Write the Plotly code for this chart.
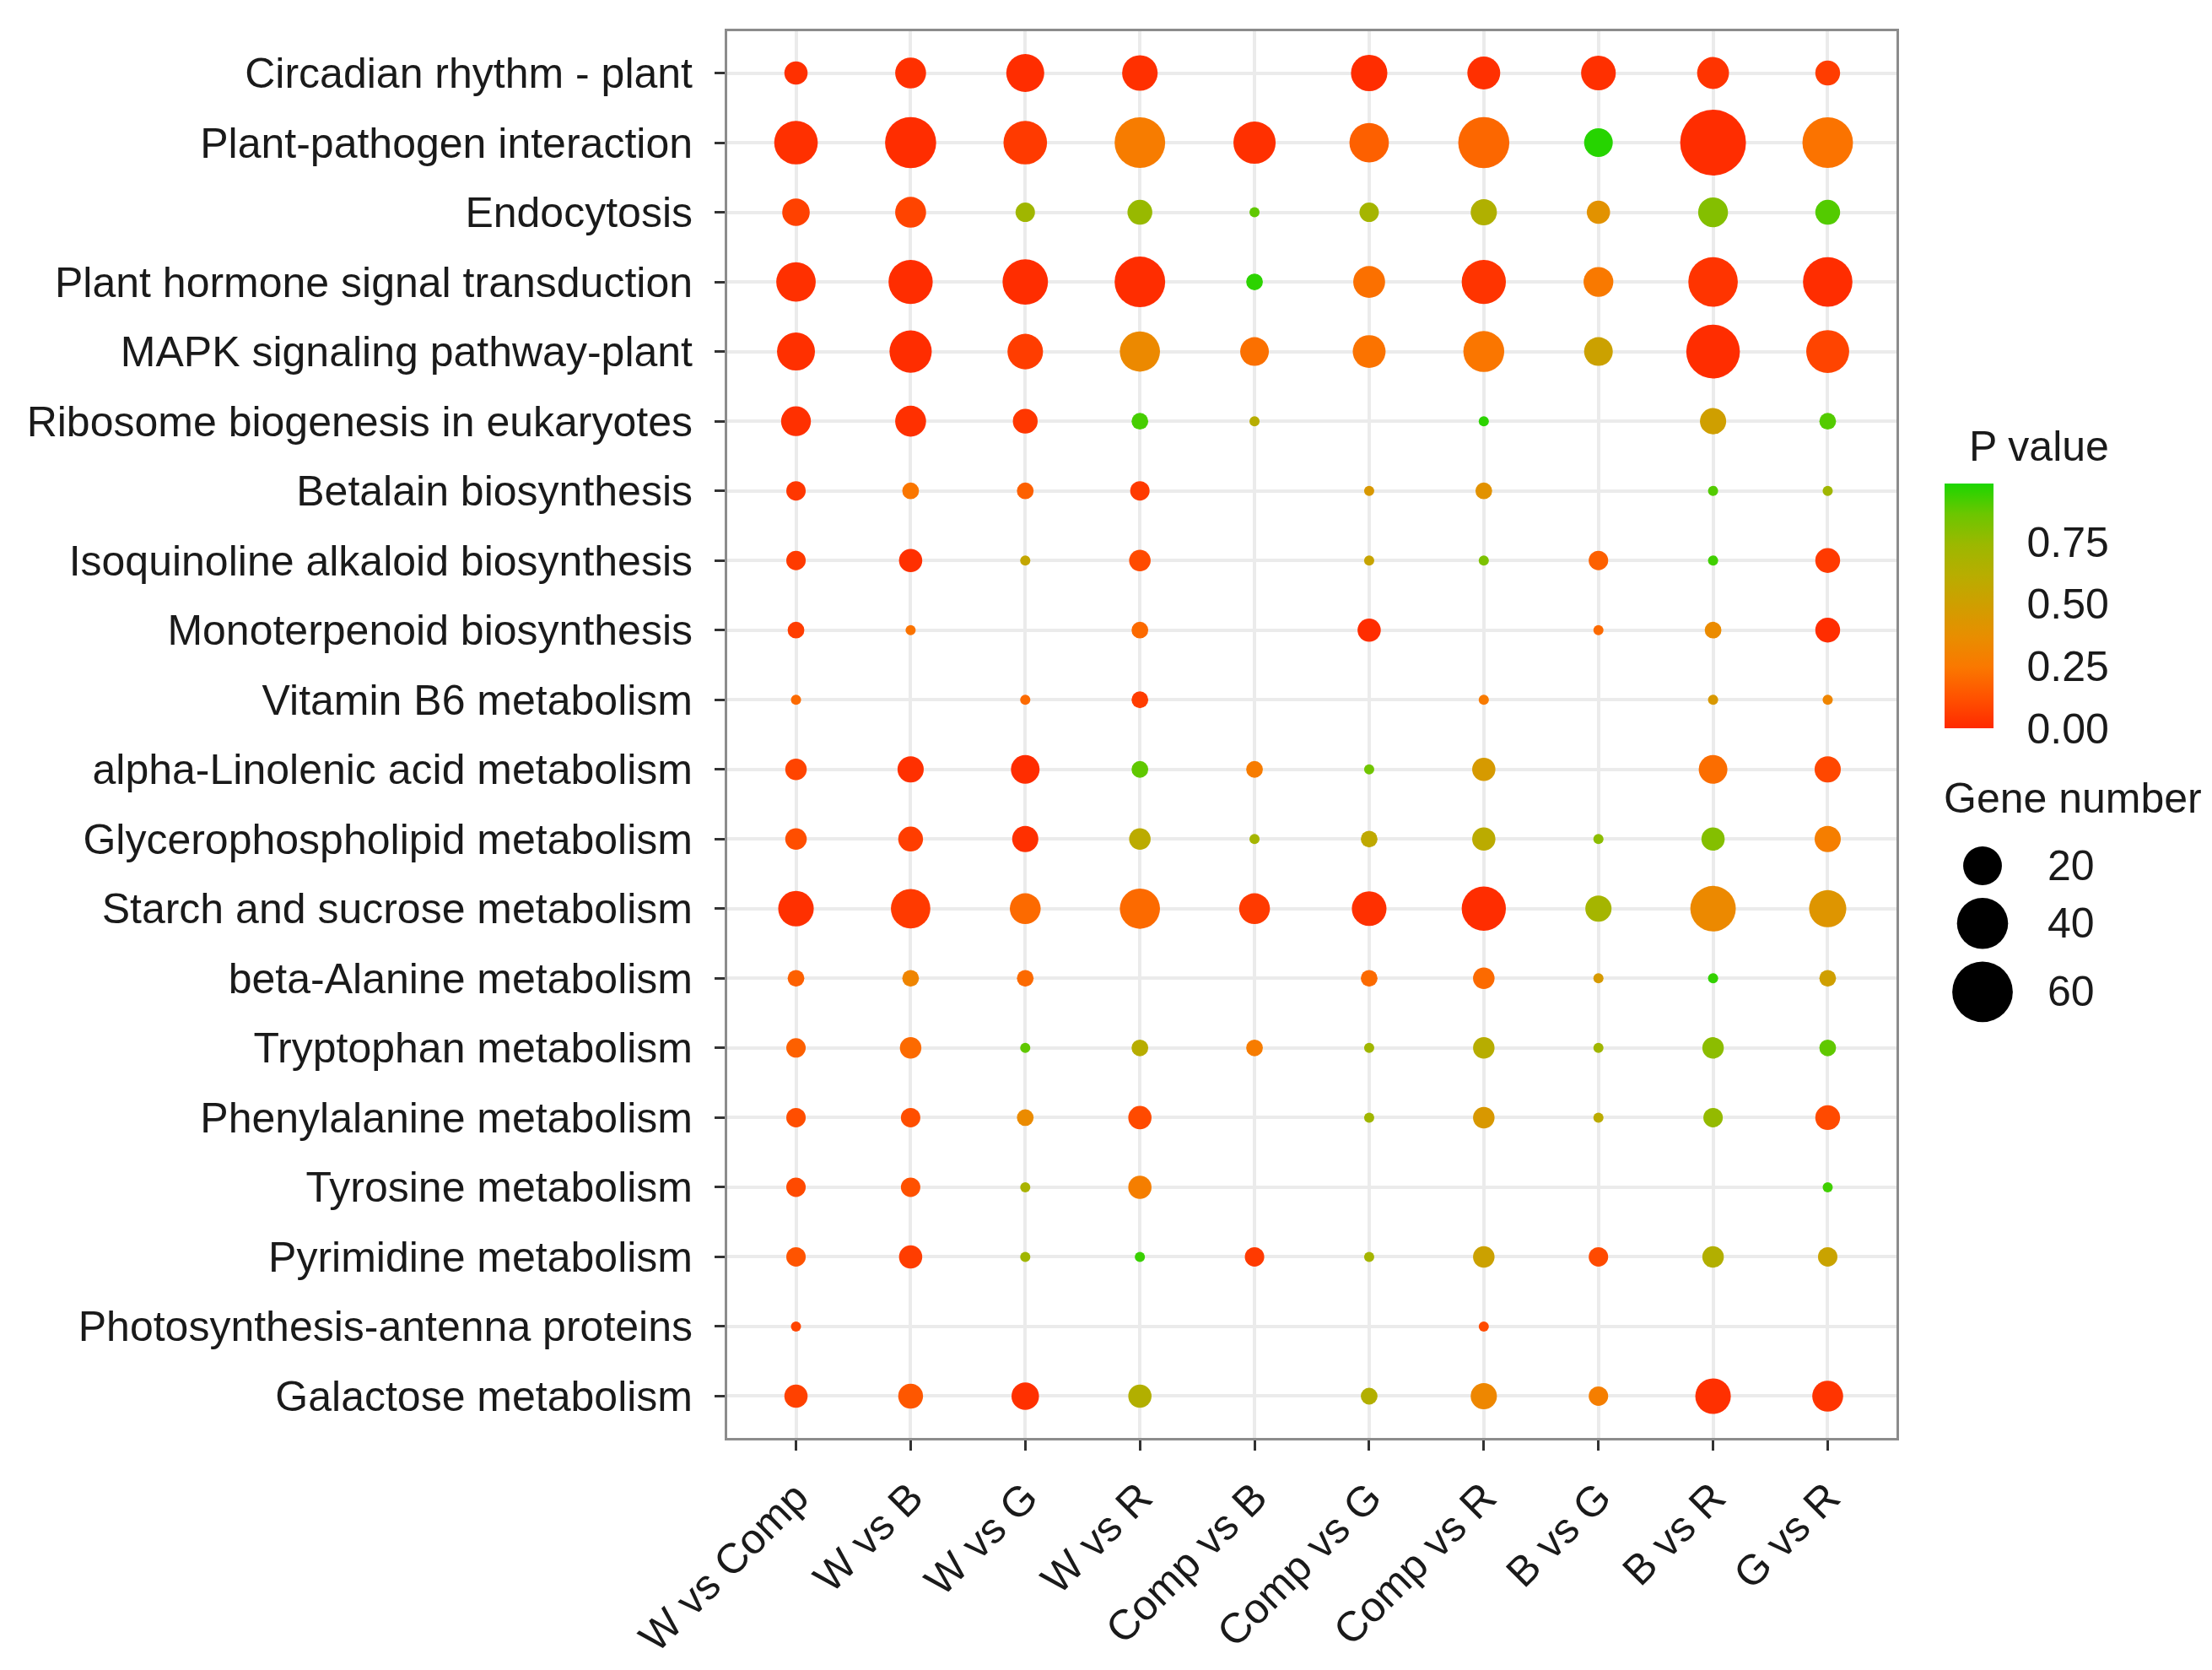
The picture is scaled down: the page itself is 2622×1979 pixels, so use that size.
import numpy as np
import plotly.graph_objects as go

# --- data (None = pathway not enriched) ---
pathways = [
    "Circadian rhythm - plant",
    "Plant-pathogen interaction",
    "Endocytosis",
    "Plant hormone signal transduction",
    "MAPK signaling pathway-plant",
    "Ribosome biogenesis in eukaryotes",
    "Betalain biosynthesis",
    "Isoquinoline alkaloid biosynthesis",
    "Monoterpenoid biosynthesis",
    "Vitamin B6 metabolism",
    "alpha-Linolenic acid metabolism",
    "Glycerophospholipid metabolism",
    "Starch and sucrose metabolism",
    "beta-Alanine metabolism",
    "Tryptophan metabolism",
    "Phenylalanine metabolism",
    "Tyrosine metabolism",
    "Pyrimidine metabolism",
    "Photosynthesis-antenna proteins",
    "Galactose metabolism",
]

comparisons = ["W vs Comp", "W vs B", "W vs G", "W vs R", "Comp vs B",
               "Comp vs G", "Comp vs R", "B vs G", "B vs R", "G vs R"]

# one row per pathway, one column per comparison
gene_number = [
    [5, 11, 19, 16, None, 17, 13, 15, 12, 6],
    [27, 40, 27, 39, 25, 21, 40, 9, 73, 39],
    [8, 11, 3, 6, 1, 3, 7, 5, 10, 6],
    [21, 28, 30, 39, 2, 12, 28, 10, 37, 37],
    [19, 25, 16, 22, 9, 13, 23, 9, 45, 26],
    [10, 11, 6, 2, 1, None, 1, None, 7, 2],
    [3, 2, 2, 3, None, 1, 2, None, 1, 1],
    [3, 5, 1, 4, None, 1, 1, 3, 1, 6],
    [2, 1, None, 2, None, 5, None, 1, 2, 6],
    [1, None, 1, 2, None, None, 1, None, 1, 1],
    [4, 7, 9, 2, 2, 1, 5, None, 9, 7],
    [4, 6, 7, 4, 1, 2, 5, 1, 5, 7],
    [16, 21, 11, 22, 11, 15, 28, 7, 30, 18],
    [2, 2, 2, None, None, 2, 4, 1, 1, 2],
    [3, 4, 1, 2, 2, 1, 4, 1, 4, 2],
    [3, 3, 2, 5, None, 1, 4, 1, 3, 6],
    [3, 3, 1, 5, None, None, None, None, None, 1],
    [3, 5, 1, 1, 3, 1, 4, 3, 4, 3],
    [1, None, None, None, None, None, 1, None, None, None],
    [5, 6, 8, 5, None, 2, 7, 3, 16, 11],
]

p_value = [
    [0.02, 0.02, 0.01, 0.02, None, 0.01, 0.02, 0.02, 0.03, 0.06],
    [0.02, 0.01, 0.05, 0.27, 0.02, 0.17, 0.19, 0.97, 0.01, 0.23],
    [0.07, 0.08, 0.72, 0.75, 0.88, 0.70, 0.65, 0.40, 0.80, 0.90],
    [0.02, 0.01, 0.01, 0.01, 0.96, 0.22, 0.03, 0.25, 0.03, 0.01],
    [0.02, 0.01, 0.06, 0.34, 0.22, 0.23, 0.24, 0.52, 0.01, 0.08],
    [0.02, 0.02, 0.04, 0.92, 0.62, None, 0.96, None, 0.50, 0.90],
    [0.04, 0.24, 0.17, 0.05, None, 0.45, 0.40, None, 0.90, 0.72],
    [0.05, 0.02, 0.56, 0.10, None, 0.54, 0.82, 0.17, 0.93, 0.05],
    [0.06, 0.23, None, 0.20, None, 0.01, None, 0.20, 0.35, 0.01],
    [0.20, None, 0.20, 0.06, None, None, 0.26, None, 0.45, 0.32],
    [0.08, 0.02, 0.01, 0.88, 0.27, 0.85, 0.46, None, 0.21, 0.09],
    [0.11, 0.06, 0.02, 0.60, 0.70, 0.58, 0.60, 0.78, 0.80, 0.28],
    [0.02, 0.05, 0.20, 0.20, 0.05, 0.02, 0.01, 0.70, 0.34, 0.42],
    [0.17, 0.32, 0.20, None, None, 0.20, 0.20, 0.46, 0.95, 0.50],
    [0.17, 0.20, 0.88, 0.62, 0.27, 0.72, 0.62, 0.72, 0.78, 0.88],
    [0.11, 0.11, 0.35, 0.10, None, 0.72, 0.45, 0.60, 0.76, 0.10],
    [0.10, 0.12, 0.68, 0.28, None, None, None, None, None, 0.93],
    [0.13, 0.06, 0.72, 0.94, 0.05, 0.70, 0.52, 0.10, 0.64, 0.53],
    [0.08, None, None, None, None, None, 0.10, None, None, None],
    [0.07, 0.14, 0.02, 0.64, None, 0.64, 0.33, 0.28, 0.02, 0.03],
]

legend_genes = [20, 40, 60]
pval_ticks = [0.0, 0.25, 0.5, 0.75]

# --- long format ---
xs, ys, genes, pvals = [], [], [], []
for i, path in enumerate(pathways):
    for j, comp in enumerate(comparisons):
        if gene_number[i][j] is None:
            continue
        xs.append(comp)
        ys.append(path)
        genes.append(gene_number[i][j])
        pvals.append(p_value[i][j])
genes = np.array(genes, dtype=float)

# ggplot-like area scale: diameter from 12px (min count) to 78px (max count)
n_min, n_max = genes.min(), genes.max()
def dot_size(n):
    return 12 + 66 * np.sqrt((np.asarray(n, dtype=float) - n_min) / (n_max - n_min))

pval_scale = [
    [0.0, "#FF2A00"], [0.125, "#FF5200"], [0.25, "#FA7800"],
    [0.375, "#E88E00"], [0.5, "#D09E00"], [0.625, "#B8AD00"],
    [0.75, "#9CB800"], [0.875, "#6CC600"], [1.0, "#1CD600"],
]

FONT = "Arial, Liberation Sans, sans-serif"
TXT = "#1A1A1A"
FS = 50
W, H = 2622, 1979
ML, MR, MT, MB = 854, 0, 29, 283
pw, ph = W - ML - MR, H - MT - MB
main_right = 2240


def px_x(x):
    return (x - ML) / pw


def px_y(y):
    return (H - MB - y) / ph


fig = go.Figure()

fig.add_trace(go.Scatter(
    x=xs, y=ys, mode="markers",
    marker=dict(
        size=dot_size(genes), sizemode="diameter",
        color=pvals, colorscale=pval_scale, cmin=0, cmax=0.985,
        line=dict(width=0), opacity=1,
        colorbar=dict(
            x=px_x(2297), xanchor="left", xpad=0,
            y=px_y(710), yanchor="middle", ypad=0,
            len=290 / ph, lenmode="fraction", thickness=58,
            outlinewidth=0,
            tickvals=pval_ticks, tickformat=".2f",
            ticks="outside", ticklen=30, tickcolor="rgba(0,0,0,0)",
            tickfont=dict(size=FS, family=FONT, color=TXT),
        ),
    ),
    showlegend=False,
    hovertemplate="%{y}<br>%{x}<br>P value: %{marker.color:.2f}<extra></extra>",
))

# size legend on its own small axes (units = pixels from the legend top)
leg_d = dot_size(legend_genes)
key_h = leg_d + 15
leg_y = np.cumsum(key_h) - key_h / 2
leg_top, leg_bottom = 1018 - leg_y[0], 1270

fig.add_trace(go.Scatter(
    x=[0] * len(legend_genes), y=leg_y,
    mode="markers", xaxis="x2", yaxis="y2",
    marker=dict(size=leg_d, sizemode="diameter", color="#000000", opacity=1,
                line=dict(width=0)),
    showlegend=False, hoverinfo="skip",
))
for yk, g in zip(leg_y, legend_genes):
    fig.add_annotation(x=75, y=yk, xref="x2", yref="y2", text=str(g),
                       showarrow=False, xanchor="left", yanchor="middle",
                       font=dict(size=FS, family=FONT, color=TXT))

fig.add_annotation(x=px_x(2294), y=px_y(938), xref="paper", yref="paper",
                   text="Gene number", showarrow=False, xanchor="left", yanchor="middle",
                   font=dict(size=FS, family=FONT, color=TXT))
fig.add_annotation(x=px_x(2324), y=px_y(521), xref="paper", yref="paper",
                   text="P value", showarrow=False, xanchor="left", yanchor="middle",
                   font=dict(size=FS, family=FONT, color=TXT))

axis_common = dict(
    showgrid=True, gridcolor="#EBEBEB", gridwidth=4,
    showline=True, linecolor="#8C8C8C", linewidth=3, mirror=True,
    ticks="outside", ticklen=12, tickwidth=3, tickcolor="#333333",
    tickfont=dict(size=FS, family=FONT, color=TXT),
    zeroline=False,
)

fig.update_layout(
    width=W, height=H,
    margin=dict(l=ML, r=MR, t=MT, b=MB),
    paper_bgcolor="white", plot_bgcolor="white",
    font=dict(family=FONT, color=TXT),
    xaxis=dict(axis_common, type="category", categoryorder="array",
               categoryarray=comparisons, range=[-0.6, len(comparisons) - 0.4],
               domain=[0, px_x(main_right)], tickangle=-45,
               ticklabelstandoff=6),
    yaxis=dict(axis_common, type="category", categoryorder="array",
               categoryarray=pathways, range=[len(pathways) - 0.4, -0.6],
               ticklabelstandoff=16),
    xaxis2=dict(domain=[px_x(2290), 1.0], range=[2290 - 2342, W - 2342],
                visible=False, anchor="y2", fixedrange=True),
    yaxis2=dict(domain=[px_y(leg_bottom), px_y(leg_top)],
                range=[leg_bottom - leg_top, 0],
                visible=False, anchor="x2", fixedrange=True),
)

fig.write_html("out.html")
